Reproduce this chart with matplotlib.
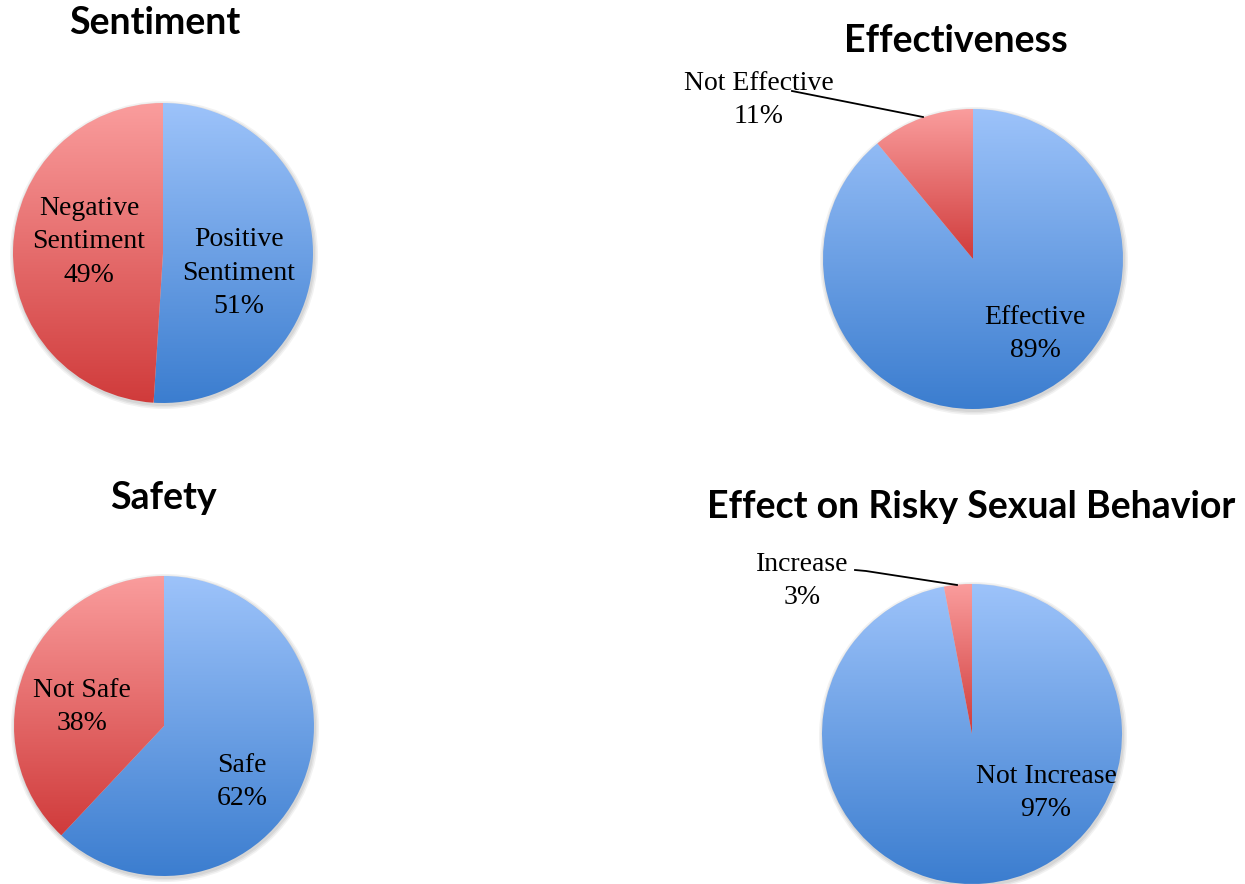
import matplotlib
matplotlib.use("Agg")
import matplotlib.pyplot as plt
import numpy as np
from matplotlib.colors import to_rgb
from matplotlib.patches import Circle

W, H = 1245, 884

# chart data
titles = ["Sentiment", "Effectiveness", "Safety", "Effect on Risky Sexual Behavior"]
blue_names = ["Positive\nSentiment", "Effective", "Safe", "Not Increase"]
red_names = ["Negative\nSentiment", "Not Effective", "Not Safe", "Increase"]
blue_vals = [51, 89, 62, 97]
red_vals = [49, 11, 38, 3]

# layout in pixels (y measured from top)
centers = [(163, 253), (973, 259), (164, 726), (972, 734)]
radius = 150
title_pos = [(155, 23), (956, 41), (163, 498), (971, 507)]
blue_lab = [(239, 273), (1035, 334), (242, 782), (1046, 793)]
red_lab = [(89, 242), (759, 100), (82, 707), (802, 581)]
leaders = [None, [(792, 91), (923, 117)], None, [(855, 570), (866, 571), (957, 585)]]

BLUE = ("#9dc3fa", "#3b7dcf")
RED = ("#fa9d9d", "#d03b3b")

plt.rcParams["font.family"] = ["Liberation Serif", "DejaVu Serif"]

fig = plt.figure(figsize=(W / 100, H / 100), dpi=100)
ax = fig.add_axes([0, 0, 1, 1])


def grad_fill(ax, wedge, top, bottom):
    verts = wedge.get_patch_transform().transform(wedge.get_path().vertices)
    x0, y0 = verts.min(axis=0)
    x1, y1 = verts.max(axis=0)
    c0 = np.array(to_rgb(bottom))
    c1 = np.array(to_rgb(top))
    t = np.linspace(0, 1, 256)[:, None, None]
    img = c0 + (c1 - c0) * t
    im = ax.imshow(img, extent=(x0, x1, y0, y1), origin="lower",
                   aspect="auto", interpolation="bilinear", zorder=2)
    im.set_clip_path(wedge)
    wedge.set_facecolor("none")


for i in range(4):
    cx, cy = centers[i]
    cy = H - cy
    # soft shadow
    for k, a in enumerate([0.06, 0.06, 0.05]):
        ax.add_patch(Circle((cx + 1, cy - 2), radius + 1 + k * 1.5,
                            color="black", alpha=a, lw=0, zorder=1))
    wedges, _ = ax.pie([blue_vals[i], red_vals[i]], center=(cx, cy), radius=radius,
                       startangle=90, counterclock=False, frame=True,
                       wedgeprops=dict(linewidth=0))
    grad_fill(ax, wedges[0], *BLUE)
    grad_fill(ax, wedges[1], *RED)

    bx, by = blue_lab[i]
    ax.text(bx, H - by, f"{blue_names[i]}\n{blue_vals[i]}%", ha="center", va="center",
            fontsize=20, linespacing=1.45, zorder=5)
    rx, ry = red_lab[i]
    ax.text(rx, H - ry, f"{red_names[i]}\n{red_vals[i]}%", ha="center", va="center",
            fontsize=20, linespacing=1.45, zorder=5)
    if leaders[i]:
        pts = np.array(leaders[i], dtype=float)
        ax.plot(pts[:, 0], H - pts[:, 1], color="black", lw=1.3, zorder=6)

    tx, ty = title_pos[i]
    ax.text(tx, H - ty, titles[i], ha="center", va="center", fontsize=27,
            fontweight="bold", family=["Lato", "DejaVu Sans"], zorder=5)

ax.set_xlim(0, W)
ax.set_ylim(0, H)
ax.set_aspect("equal", adjustable="box")
ax.axis("off")

fig.savefig("out.png", dpi=100)
